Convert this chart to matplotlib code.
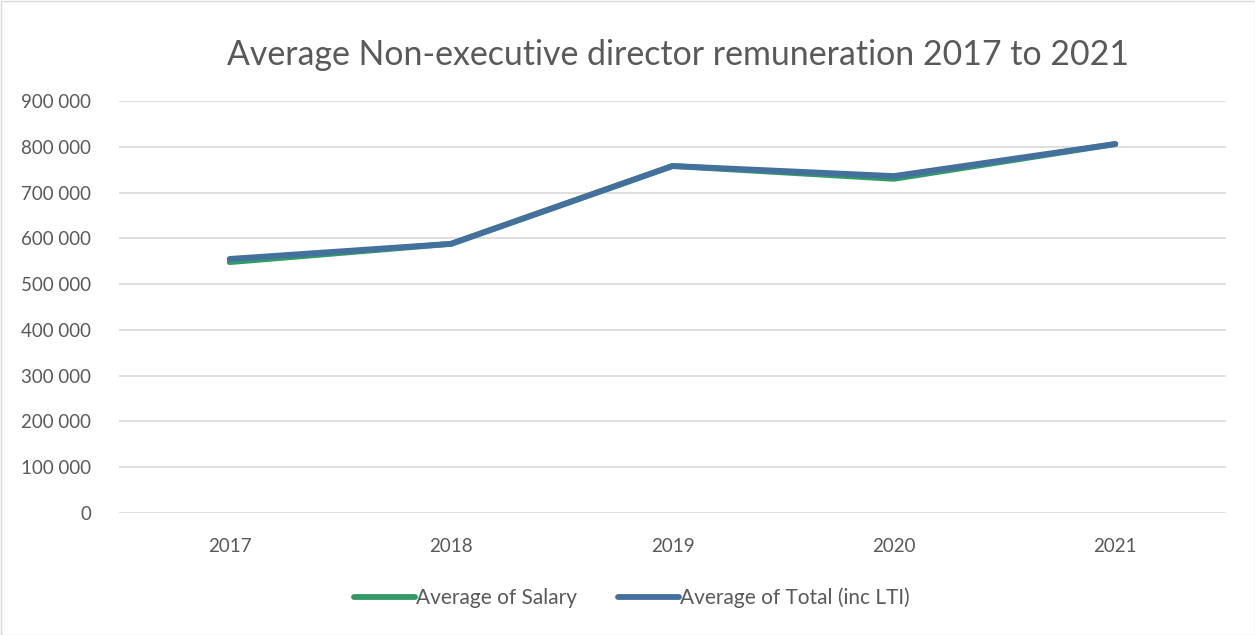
import matplotlib
matplotlib.use("Agg")
import matplotlib.pyplot as plt
from matplotlib.ticker import FuncFormatter
from matplotlib.patches import Rectangle

years = ["2017", "2018", "2019", "2020", "2021"]
salary = [548000, 588000, 758000, 730000, 806000]
total = [555000, 588000, 758000, 736000, 806000]
yticks = [0, 100000, 200000, 300000, 400000, 500000, 600000, 700000, 800000, 900000]

plt.rcParams['font.family'] = ['Lato', 'DejaVu Sans']

fig = plt.figure(figsize=(12.55, 6.35), dpi=100)
ax = fig.add_axes([119/1255, 1-513/635, (1226-119)/1255, (513-101)/635])

x = list(range(len(years)))
ax.plot(x, salary, color='#339966', lw=4.2, solid_capstyle='round', label='Average of Salary', zorder=3)
ax.plot(x, total, color='#44709e', lw=4.2, solid_capstyle='round', label='Average of Total (inc LTI)', zorder=4)

ax.set_xlim(-0.5, len(years)-0.5)
ax.set_ylim(0, 900000)
ax.set_yticks(yticks)
ax.yaxis.set_major_formatter(FuncFormatter(lambda v, p: f"{int(v):,}".replace(",", " ")))
ax.set_xticks(x)
ax.set_xticklabels(years)
ax.grid(axis='y', color='#d9d9d9', lw=1.2)
ax.set_axisbelow(True)
for s in ax.spines.values():
    s.set_visible(False)
ax.tick_params(length=0, colors='#595959', labelsize=13.5)
ax.tick_params(axis='x', pad=18)
ax.tick_params(axis='y', pad=20)

fig.text(678/1255, 1-55/635, "Average Non-executive director remuneration 2017 to 2021",
         ha='center', va='center', fontsize=24.4, color='#595959', fontweight='normal')

leg = fig.legend(loc='center', bbox_to_anchor=(632/1255, 1-598/635), ncol=2, frameon=False,
                 fontsize=15, labelcolor='#595959', handlelength=2.9, handletextpad=0.05,
                 columnspacing=2.0)

fig.patches.append(Rectangle((0.5/1255, 0.5/635), 1-1/1255, 1-1/635, transform=fig.transFigure,
                             fill=False, edgecolor='#d9d9d9', lw=1))

fig.savefig("out.png", dpi=100)
